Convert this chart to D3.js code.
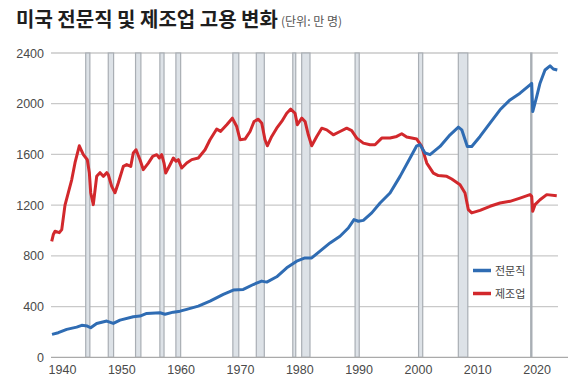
<!DOCTYPE html>
<html>
<head>
<meta charset="utf-8">
<script src="https://cdn.jsdelivr.net/npm/d3@7"></script>
<style>
  body { margin: 0; background: #fff; }
  svg { display: block; }
</style>
</head>
<body>
<div id="chart"></div>
<script>
// 제조업 (manufacturing), 10k persons
var mfgYears = [1939.37, 1939.64, 1939.93, 1940.65, 1941.06, 1941.61, 1942.17, 1942.74, 1943.3, 1944.02,
  1944.7, 1945.37, 1945.71, 1945.94, 1946.38, 1946.95, 1947.51, 1948.07, 1948.64, 1948.91,
  1949.48, 1950.04, 1950.6, 1951.44, 1952.01, 1952.69, 1953.12, 1953.58, 1954.25, 1954.81,
  1955.65, 1956.39, 1957.07, 1957.51, 1957.91, 1958.3, 1958.58, 1959.31, 1959.87, 1960.32,
  1960.71, 1961.28, 1962.12, 1962.97, 1964.08, 1965.21, 1966.05, 1967.18, 1967.85, 1968.87,
  1969.81, 1970.55, 1971.11, 1971.95, 1972.8, 1973.47, 1974.19, 1974.77, 1975.32, 1975.71,
  1976.45, 1977.29, 1978.14, 1978.98, 1979.65, 1980.38, 1980.77, 1981.51, 1982.07, 1982.62,
  1983.19, 1984.04, 1984.88, 1985.72, 1986.83, 1987.96, 1989.09, 1989.93, 1990.78, 1991.89,
  1993.02, 1993.86, 1994.99, 1996.39, 1997.52, 1998.36, 1999.2, 2000.89, 2001.73, 2002.58,
  2003.69, 2004.53, 2005.95, 2006.79, 2008.19, 2009.03, 2009.59, 2010.16, 2011.56, 2013.24,
  2014.93, 2016.61, 2018.3, 2019.98, 2020.27, 2020.44, 2020.83, 2021.67, 2022.8, 2024.49];
var mfgValues = [915, 968, 994, 983, 1007, 1200, 1298, 1400, 1535, 1668,
  1598, 1558, 1456, 1298, 1204, 1427, 1456, 1427, 1456, 1440,
  1348, 1298, 1377, 1506, 1520, 1506, 1611, 1637, 1558, 1480,
  1532, 1585, 1598, 1572, 1598, 1532, 1453, 1519, 1572, 1546,
  1559, 1493, 1532, 1559, 1572, 1637, 1716, 1800, 1782, 1834,
  1886, 1820, 1716, 1721, 1781, 1860, 1878, 1847, 1716, 1668,
  1742, 1807, 1860, 1925, 1957, 1925, 1834, 1886, 1860, 1755,
  1668, 1742, 1807, 1794, 1755, 1781, 1807, 1788, 1729, 1689,
  1676, 1676, 1729, 1729, 1742, 1763, 1737, 1721, 1663, 1532,
  1453, 1433, 1427, 1406, 1361, 1296, 1165, 1139, 1159, 1191,
  1217, 1230, 1256, 1283, 1269, 1151, 1204, 1243, 1283, 1275];

// 전문직 (professional services), 10k persons
var proYears = [1939.42, 1940.48, 1941.9, 1943.58, 1944.43, 1945.37, 1945.94, 1946.95, 1948.64, 1949.75,
  1950.88, 1953.12, 1954.25, 1955.38, 1957.62, 1958.47, 1959.87, 1961.0, 1962.12, 1964.08,
  1966.05, 1968.29, 1969.98, 1971.66, 1973.35, 1974.76, 1975.61, 1977.29, 1978.98, 1980.66,
  1982.06, 1983.19, 1984.59, 1986.28, 1987.96, 1989.36, 1990.32, 1991.05, 1991.89, 1993.31,
  1994.71, 1996.39, 1998.08, 1999.77, 2000.89, 2001.45, 2002.29, 2003.13, 2004.82, 2006.51,
  2007.91, 2008.48, 2009.42, 2010.16, 2011.56, 2013.24, 2014.93, 2016.61, 2018.3, 2019.98,
  2020.27, 2020.44, 2021.11, 2021.67, 2022.51, 2023.36, 2023.91, 2024.58];
var proValues = [181, 194, 220, 238, 252, 246, 233, 267, 286, 267,
  293, 320, 325, 346, 351, 340, 356, 364, 378, 404,
  443, 496, 530, 535, 574, 601, 593, 635, 706, 758,
  784, 784, 837, 902, 955, 1020, 1086, 1073, 1080, 1139,
  1217, 1296, 1427, 1572, 1668, 1676, 1611, 1598, 1663, 1755,
  1815, 1794, 1663, 1663, 1742, 1847, 1952, 2030, 2083, 2148,
  2160, 1938, 2056, 2162, 2266, 2298, 2274, 2266];

// recession periods (start, end)
var recStart = [1945.1, 1948.9, 1953.5, 1957.6, 1960.3, 1969.9, 1973.85, 1980.0, 1981.5, 1990.5, 2001.2, 2007.9, 2020.1];
var recEnd   = [1945.8, 1949.8, 1954.4, 1958.3, 1961.1, 1970.9, 1975.2, 1980.5, 1982.9, 1991.2, 2001.9, 2009.5, 2020.3];

var yTicks = [0, 400, 800, 1200, 1600, 2000, 2400];
var xTicks = [1940, 1950, 1960, 1970, 1980, 1990, 2000, 2010, 2020];

var seriesNames = ["전문직", "제조업"];
var seriesColors = ["#2f6cb3", "#d2282c"];

var svgWidth = 576, svgHeight = 386;
var plotLeft = 51, plotRight = 558, plotTop = 53, plotBottom = 357.3;

var svg = d3.select("#chart").append("svg")
    .attr("width", svgWidth)
    .attr("height", svgHeight);

var x = d3.scaleLinear().domain([1939.25, 2024.7]).range([plotLeft, plotRight]);
var y = d3.scaleLinear().domain([0, 2400]).range([plotBottom, plotTop]);

//title
svg.append("text")
    .attr("x", 16).attr("y", 27)
    .style("font-family", "'Noto Sans CJK KR', sans-serif")
    .style("font-size", "20px")
    .style("font-weight", "bold")
    .attr("fill", "#1e1e1e")
    .text("미국 전문직 및 제조업 고용 변화");

svg.append("text")
    .attr("x", 281).attr("y", 26)
    .style("font-family", "'Noto Sans CJK KR', sans-serif")
    .style("font-size", "12px")
    .attr("fill", "#555")
    .text("(단위: 만 명)");

// horizontal grid
svg.append("g")
    .selectAll("line")
    .data(yTicks.slice(1))
    .enter().append("line")
    .attr("x1", plotLeft).attr("x2", plotRight)
    .attr("y1", function (d) { return y(d); })
    .attr("y2", function (d) { return y(d); })
    .attr("stroke", "#c9c9c9")
    .attr("stroke-width", 1.3);

// recession bands
svg.append("g")
    .selectAll("rect")
    .data(recStart)
    .enter().append("rect")
    .attr("x", function (d) { return x(d); })
    .attr("y", plotTop)
    .attr("width", function (d, i) { return x(recEnd[i]) - x(d); })
    .attr("height", plotBottom - plotTop)
    .attr("fill", "#dde2e7")
    .attr("stroke", "#a9aeb4")
    .attr("stroke-width", 1.2);

// y axis labels
var yAxis = d3.axisLeft(y).tickValues(yTicks).tickSize(0).tickPadding(6).tickFormat(d3.format("d"));
var gy = svg.append("g")
    .attr("transform", "translate(" + (plotLeft - 1) + ",0)")
    .call(yAxis);
gy.select(".domain").remove();
gy.selectAll("text")
    .style("font-family", "'Liberation Sans', Arial, sans-serif")
    .style("font-size", "12.5px")
    .attr("fill", "#4a4a4a");

// x axis
var xAxis = d3.axisBottom(x).tickValues(xTicks).tickSize(0).tickPadding(8).tickFormat(d3.format("d"));
var gx = svg.append("g")
    .attr("transform", "translate(0," + plotBottom + ")")
    .call(xAxis);
gx.select(".domain").remove();
gx.selectAll("text")
    .attr("dx", 6.5)
    .style("font-family", "'Liberation Sans', Arial, sans-serif")
    .style("font-size", "12.5px")
    .attr("fill", "#4a4a4a");

svg.append("line")
    .attr("x1", plotLeft).attr("x2", 568)
    .attr("y1", plotBottom).attr("y2", plotBottom)
    .attr("stroke", "#aaa")
    .attr("stroke-width", 1.3);

// lines
var line = d3.line()
    .x(function (d) { return x(d[0]); })
    .y(function (d) { return y(d[1]); });

var mfgData = mfgYears.map(function (d, i) { return [d, mfgValues[i]]; });
var proData = proYears.map(function (d, i) { return [d, proValues[i]]; });

svg.append("path")
    .datum(mfgData)
    .attr("d", line)
    .attr("fill", "none")
    .attr("stroke", seriesColors[1])
    .attr("stroke-width", 3)
    .attr("stroke-linejoin", "round");

svg.append("path")
    .datum(proData)
    .attr("d", line)
    .attr("fill", "none")
    .attr("stroke", seriesColors[0])
    .attr("stroke-width", 3)
    .attr("stroke-linejoin", "round");

// legend
var legend = svg.append("g").attr("transform", "translate(473,270.5)");
seriesNames.forEach(function (name, i) {
    var g = legend.append("g").attr("transform", "translate(0," + (i * 23) + ")");
    g.append("line")
        .attr("x1", 0).attr("x2", 18)
        .attr("stroke", seriesColors[i])
        .attr("stroke-width", 3.5);
    g.append("text")
        .attr("x", 22).attr("y", 4)
        .style("font-family", "'Noto Sans CJK KR', sans-serif")
        .style("font-size", "11px")
        .attr("fill", "#444")
        .text(name);
});
</script>
</body>
</html>
